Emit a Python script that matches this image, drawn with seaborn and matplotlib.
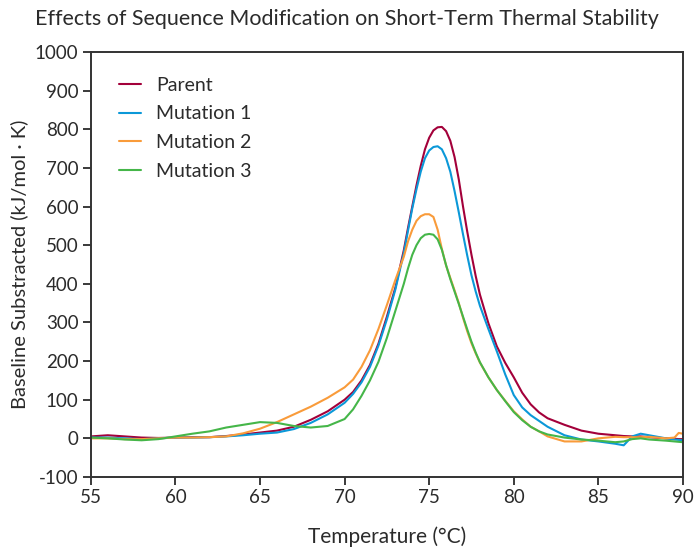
"""
DSC curves - sequence modification vs. short-term thermal stability
"""

import numpy as np
import pandas as pd
import matplotlib
matplotlib.use("Agg")
import matplotlib.pyplot as plt
import seaborn as sns

# shared temperature grid (deg C), finer around the peak
temps = [55, 56, 57, 58, 59, 60, 61, 62, 63, 64, 65, 66, 67, 68, 69, 70, 70.5, 71, 71.5,
         72, 72.5, 73, 73.5, 73.75, 74, 74.25, 74.5, 74.75, 75, 75.25, 75.5, 75.75, 76,
         76.25, 76.5, 76.75, 77, 77.25, 77.5, 77.75, 78, 78.5, 79, 79.5, 80, 80.5, 81,
         81.5, 82, 83, 84, 85, 86, 86.5, 87, 87.5, 88, 89, 89.5, 89.75, 90]

parent = [5, 8, 5, 2, 1, 2, 3, 3, 6, 10, 15, 20, 30, 48, 70, 100, 120, 150, 190,
          245, 315, 390, 487, 545, 600, 655, 705, 748, 778, 797, 805, 806, 795,
          770, 728, 670, 600, 535, 475, 420, 372, 298, 238, 195, 158, 118, 88,
          67, 52, 35, 20, 12, 8, 6, 5, 5, 3, 0, -1, -2, -2]

mutation1 = [2, 2, 0, -2, 0, 2, 2, 3, 5, 8, 12, 15, 24, 40, 62, 92, 115, 145, 185,
             240, 308, 385, 480, 538, 595, 645, 690, 725, 745, 754, 756, 748, 725,
             690, 640, 585, 528, 473, 422, 380, 343, 283, 225, 165, 112, 80, 60,
             45, 30, 8, -3, -8, -14, -18, 5, 12, 8, 0, -3, -4, -5]

mutation2 = [0, 0, -2, -2, 0, 2, 2, 3, 5, 13, 25, 42, 62, 82, 105, 132, 152, 185, 228,
             283, 345, 410, 470, 510, 540, 563, 575, 580, 580, 573, 540, 490, 447,
             415, 383, 350, 312, 277, 246, 220, 196, 158, 125, 97, 70, 49, 30,
             18, 5, -8, -8, 0, 4, 3, 3, 3, 4, 0, 2, 14, 12]

mutation3 = [2, 0, -3, -5, -2, 5, 12, 18, 28, 35, 42, 40, 32, 28, 32, 50, 75, 110, 150,
             198, 260, 330, 400, 440, 475, 500, 518, 527, 529, 527, 515, 488, 448,
             412, 380, 348, 315, 282, 250, 222, 197, 158, 125, 96, 68, 47, 30,
             18, 10, 2, -3, -6, -10, -8, -2, 0, -3, -6, -8, -9, -10]

series = {"Parent": parent, "Mutation 1": mutation1,
          "Mutation 2": mutation2, "Mutation 3": mutation3}
colors = {"Parent": "#A3003A", "Mutation 1": "#0B98D8",
          "Mutation 2": "#F99B3A", "Mutation 3": "#45B649"}

df = pd.concat([pd.DataFrame({"T": temps, "Cp": v, "Sample": k}) for k, v in series.items()],
               ignore_index=True)

sns.set_style("white")
plt.rcParams['font.family'] = ['Lato', 'DejaVu Sans']
plt.rcParams['axes.unicode_minus'] = False
text_c = "#2b2b2b"

fig = plt.figure(figsize=(6.99, 5.47), dpi=100)
ax = fig.add_axes([0.130, 0.128, 0.847, 0.777])

sns.lineplot(data=df, x="T", y="Cp", hue="Sample", palette=colors, estimator=None,
             sort=False, linewidth=1.5, ax=ax)

ax.set_xlim(55, 90)
ax.set_ylim(-100, 1000)
ax.set_xticks(np.arange(55, 91, 5))
ax.set_yticks(np.arange(-100, 1001, 100))
ax.tick_params(left=True, bottom=True, direction='out', length=6, width=1.3,
               labelsize=13.5, colors=text_c, pad=3)
for s in ax.spines.values():
    s.set_color("#333333")
    s.set_linewidth(1.4)

ax.set_xlabel("Temperature (°C)", fontsize=15, color=text_c, labelpad=14)
ax.set_ylabel("Baseline Substracted (kJ/mol · K)", fontsize=14.5, color=text_c, labelpad=5)

fig.text(0.497, 0.965, "Effects of Sequence Modification on Short-Term Thermal Stability",
         ha="center", va="center", fontsize=15.5, color=text_c)

leg = ax.legend(loc="upper left", frameon=False, fontsize=14, handlelength=1.1,
                handletextpad=0.8, labelspacing=0.6, borderaxespad=0.0,
                bbox_to_anchor=(0.035, 0.96))
for t in leg.get_texts():
    t.set_color(text_c)

plt.savefig("out.png", dpi=100)
